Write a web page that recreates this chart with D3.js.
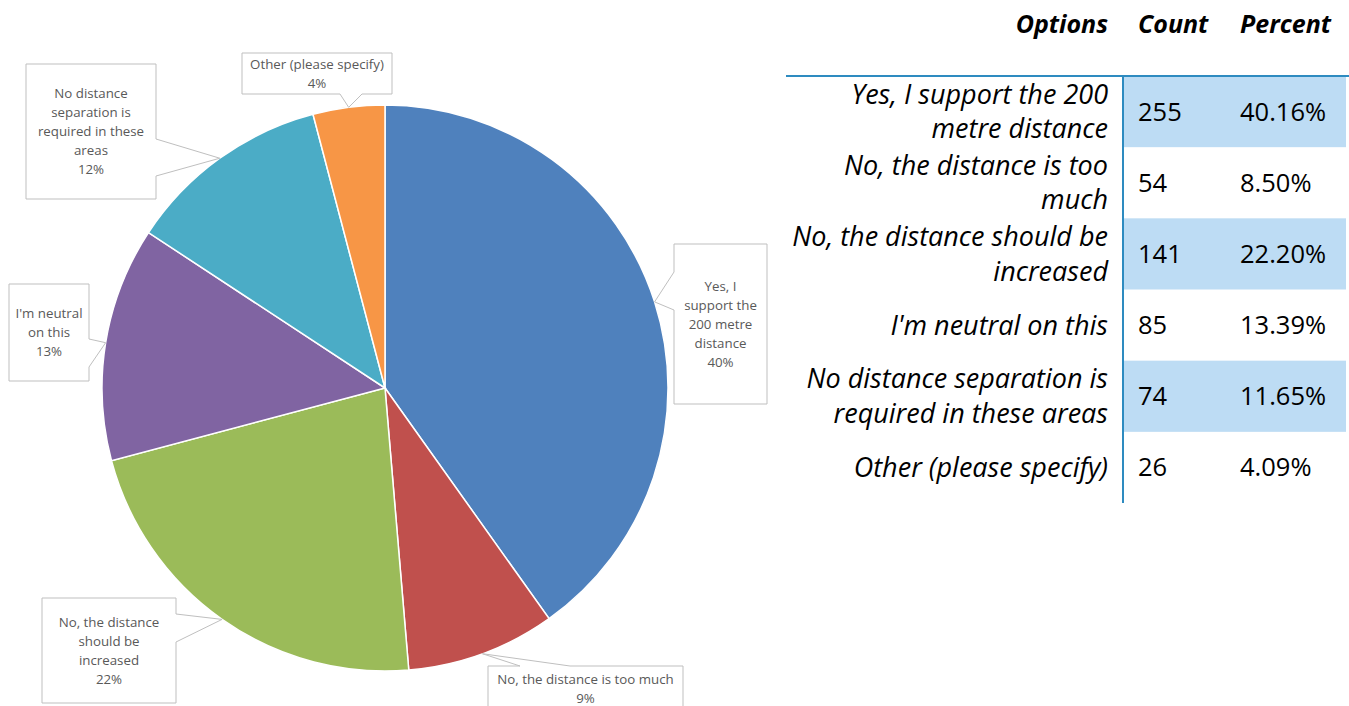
<!DOCTYPE html>
<html>
<head>
<meta charset="utf-8">
<script src="https://cdn.jsdelivr.net/npm/d3@7"></script>
<style>
  body { margin: 0; background: #fff; }
  svg { display: block; }
</style>
</head>
<body>
<svg id="chart" width="1349" height="706"></svg>
<script>
// data
const options = ['Yes, I support the 200 metre distance', 'No, the distance is too much', 'No, the distance should be increased',
  "I'm neutral on this", 'No distance separation is required in these areas', 'Other (please specify)'];
const counts = [255, 54, 141, 85, 74, 26];
const percents = ['40.16%', '8.50%', '22.20%', '13.39%', '11.65%', '4.09%'];
const tableLines = [
  ['Yes, I support the 200', 'metre distance'],
  ['No, the distance is too', 'much'],
  ['No, the distance should be', 'increased'],
  ["I'm neutral on this"],
  ['No distance separation is', 'required in these areas'],
  ['Other (please specify)']
];
const pieLabelLines = [
  ['Yes, I', 'support the', '200 metre', 'distance'],
  ['No, the distance is too much'],
  ['No, the distance', 'should be', 'increased'],
  ["I'm neutral", 'on this'],
  ['No distance', 'separation is', 'required in these', 'areas'],
  ['Other (please specify)']
];
const pieLabelPct = ['40%', '9%', '22%', '13%', '12%', '4%'];
const headers = ['Options', 'Count', 'Percent'];
const colors = ['#4F81BD', '#C0504D', '#9BBB59', '#8064A2', '#4BACC6', '#F79646'];

// callout box layout
const boxes = [
  { x: 674, y: 244, w: 93, h: 160, side: 'left', a: 272, b: 310 },
  { x: 488, y: 666, w: 195, h: 46, side: 'top', a: 520, b: 570 },
  { x: 42, y: 598, w: 134, h: 105, side: 'right', a: 614, b: 642 },
  { x: 9, y: 284, w: 80, h: 97, side: 'right', a: 339, b: 367 },
  { x: 26, y: 64, w: 130, h: 135, side: 'right', a: 139, b: 176 },
  { x: 242, y: 53, w: 150, h: 41, side: 'bottom', a: 340, b: 362 }
];

const svg = d3.select('#chart');

// pie
const cx = 385, cy = 388, radius = 283;
const pie = d3.pie().sort(null).value(d => d);
const arcs = pie(counts);
const arc = d3.arc().innerRadius(0).outerRadius(radius);

let g = svg.append('g').attr('transform', `translate(${cx},${cy})`);

g.selectAll('path')
  .data(arcs)
  .enter().append('path')
  .attr('d', arc)
  .attr('fill', (d, i) => colors[i])
  .attr('stroke', '#fff')
  .attr('stroke-width', 1.5);

// callouts
const calloutPath = (bx, tip) => {
  let x0 = bx.x, y0 = bx.y, x1 = bx.x + bx.w, y1 = bx.y + bx.h;
  let p = [[x0, y0]];
  if (bx.side === 'top') p.push([bx.a, y0], tip, [bx.b, y0]);
  p.push([x1, y0]);
  if (bx.side === 'right') p.push([x1, bx.a], tip, [x1, bx.b]);
  p.push([x1, y1]);
  if (bx.side === 'bottom') p.push([bx.b, y1], tip, [bx.a, y1]);
  p.push([x0, y1]);
  if (bx.side === 'left') p.push([x0, bx.b], tip, [x0, bx.a]);
  return 'M' + p.map(q => q.join(',')).join('L') + 'Z';
}

const lineH = 19;

arcs.forEach((d, i) => {
  let mid = (d.startAngle + d.endAngle) / 2;
  let tip = [cx + radius * Math.sin(mid), cy - radius * Math.cos(mid)];
  let bx = boxes[i];

  svg.append('path')
    .attr('d', calloutPath(bx, tip))
    .attr('fill', '#fff')
    .attr('stroke', '#bfbfbf')
    .attr('stroke-width', 1);

  let lines = pieLabelLines[i].concat([pieLabelPct[i]]);
  let top = bx.y + (bx.h - lines.length * lineH) / 2 + lineH / 2;

  svg.append('text')
    .attr('text-anchor', 'middle')
    .attr('font-family', '"Open Sans", Lato, sans-serif')
    .attr('font-size', 13.3)
    .attr('fill', '#595959')
    .selectAll('tspan')
    .data(lines)
    .enter().append('tspan')
    .attr('x', bx.x + bx.w / 2)
    .attr('y', (l, j) => top + j * lineH)
    .attr('dy', '0.35em')
    .text(l => l);
});

// table
const tableTop = 76, tableBottom = 503;
const rowScale = d3.scaleBand()
  .domain(d3.range(options.length))
  .range([tableTop, tableBottom]);
const rowH = rowScale.bandwidth();
const font = '"Open Sans", Lato, sans-serif';
const fs = 27;
const numFs = 25.5;

let t = svg.append('g');

t.selectAll('rect.hl')
  .data(options.filter((o, i) => i % 2 === 0))
  .enter().append('rect')
  .attr('class', 'hl')
  .attr('x', 1124)
  .attr('y', (o, i) => rowScale(i * 2))
  .attr('width', 222)
  .attr('height', rowH)
  .attr('fill', '#BDDCF4');

t.append('line')
  .attr('x1', 786).attr('x2', 1349)
  .attr('y1', tableTop).attr('y2', tableTop)
  .attr('stroke', '#2E8BC0').attr('stroke-width', 2);

t.append('line')
  .attr('x1', 1123).attr('x2', 1123)
  .attr('y1', tableTop).attr('y2', tableBottom)
  .attr('stroke', '#2E8BC0').attr('stroke-width', 2);

// header
const headerX = [1108, 1138, 1240];
const headerAnchor = ['end', 'start', 'start'];
headers.forEach((h, i) => {
  t.append('text')
    .attr('x', headerX[i])
    .attr('y', 24)
    .attr('dy', '0.35em')
    .attr('text-anchor', headerAnchor[i])
    .attr('font-family', font)
    .attr('font-size', 25)
    .attr('font-weight', 'bold')
    .attr('font-style', 'italic')
    .attr('fill', '#000')
    .text(h);
});

options.forEach((o, i) => {
  let mid = rowScale(i) + rowH / 2;
  let lines = tableLines[i];
  let lh = 34.5;

  t.append('text')
    .attr('text-anchor', 'end')
    .attr('font-family', font)
    .attr('font-size', fs)
    .attr('font-style', 'italic')
    .attr('fill', '#000')
    .selectAll('tspan')
    .data(lines)
    .enter().append('tspan')
    .attr('x', 1108)
    .attr('y', (l, j) => mid + (j - (lines.length - 1) / 2) * lh)
    .attr('dy', '0.35em')
    .text(l => l);

  t.append('text')
    .attr('x', 1138).attr('y', mid).attr('dy', '0.35em')
    .attr('font-family', font).attr('font-size', numFs)
    .attr('fill', '#000')
    .text(counts[i]);

  t.append('text')
    .attr('x', 1240).attr('y', mid).attr('dy', '0.35em')
    .attr('font-family', font).attr('font-size', numFs)
    .attr('fill', '#000')
    .text(percents[i]);
});
</script>
</body>
</html>
